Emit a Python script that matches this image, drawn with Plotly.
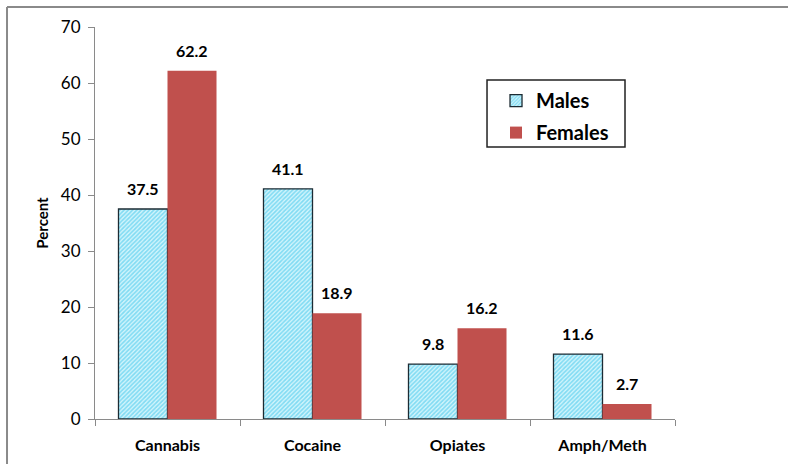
import plotly.graph_objects as go

# Data
categories = ["Cannabis", "Cocaine", "Opiates", "Amph/Meth"]
males = [37.5, 41.1, 9.8, 11.6]
females = [62.2, 18.9, 16.2, 2.7]
y_ticks = [0, 10, 20, 30, 40, 50, 60, 70]

FONT = "Lato, 'Open Sans', sans-serif"

fig = go.Figure()

fig.add_trace(go.Bar(
    name="Males",
    x=categories,
    y=males,
    legendgroup="m",
    marker=dict(
        color="#c8f1fa",
        line=dict(color="#1c2b33", width=1.3),
        pattern=dict(shape="/", fgcolor="#2ec2ea", bgcolor="#d4f5fc",
                     size=3, solidity=0.55),
    ),
))
fig.add_trace(go.Bar(
    name="Females",
    x=categories,
    y=females,
    legendgroup="f",
    marker=dict(color="#c0504d", line=dict(width=0)),
))

# value labels above the bars
for vals, shift in ((males, -24.5), (females, 24.5)):
    for cat, v in zip(categories, vals):
        fig.add_annotation(
            x=cat, y=v, text=f"<b>{v}</b>", showarrow=False,
            xshift=shift, yanchor="bottom", yshift=9,
            font=dict(family=FONT, size=16, color="#000000"),
        )

# outer chart border (only left and top edges are visible)
border = dict(color="#8a8a8a", width=2)
fig.add_shape(type="line", xref="paper", yref="paper",
              x0=-0.1517, x1=-0.1517, y0=-0.5, y1=1.051, line=border)
fig.add_shape(type="line", xref="paper", yref="paper",
              x0=-0.1517, x1=1.5, y0=1.051, y1=1.051, line=border)

# legend frame
fig.add_shape(
    type="rect", xref="paper", yref="paper",
    x0=0.6759, x1=0.9138, y0=0.6939, y1=0.8648,
    line=dict(color="#222222", width=1.5),
    fillcolor="rgba(0,0,0,0)",
)

fig.update_layout(
    width=788,
    height=464,
    margin=dict(l=95, r=113, t=27, b=45),
    paper_bgcolor="white",
    plot_bgcolor="white",
    barmode="group",
    bargap=0.324,
    bargroupgap=0,
    font=dict(family=FONT, size=14, color="#000000"),
    showlegend=True,
    legend=dict(
        x=0.6914, y=0.862, xanchor="left", yanchor="top",
        bgcolor="rgba(0,0,0,0)",
        borderwidth=0,
        font=dict(family=FONT, size=20, color="#000000", weight="bold"),
        tracegroupgap=3,
        itemwidth=30,
    ),
    xaxis=dict(
        automargin=False,
        showline=True, linecolor="#8a8a8a", linewidth=1,
        ticks="outside", tickson="boundaries", ticklen=6, tickcolor="#8a8a8a",
        tickfont=dict(family=FONT, size=16, weight="bold"),
        ticklabelstandoff=12,
        showgrid=False,
    ),
    yaxis=dict(
        automargin=False,
        range=[0, 70],
        tickvals=y_ticks,
        showline=True, linecolor="#8a8a8a", linewidth=1,
        ticks="outside", ticklen=6, tickcolor="#8a8a8a",
        tickfont=dict(family=FONT, size=17),
        ticklabelstandoff=4,
        showgrid=False, zeroline=False,
        title=dict(text="<b>Percent</b>", font=dict(family=FONT, size=15), standoff=8),
    ),
)

# page body has a default 8px margin; drop it so the figure sits at the corner
fig.write_html("out.html", config={"displayModeBar": False},
               post_script="document.body.style.margin='0';")
